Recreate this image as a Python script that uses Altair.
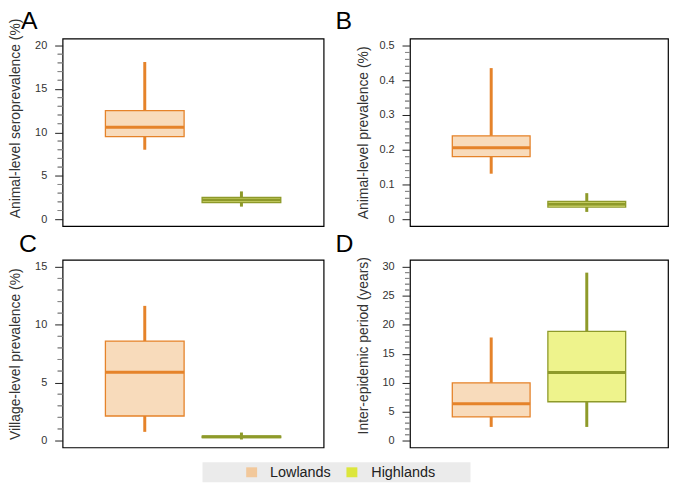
import altair as alt
import pandas as pd

FONT = "Liberation Sans"

groups = ["Lowlands", "Highlands"]
letters = ["A", "B", "C", "D"]
y_titles = [
    "Animal-level seroprevalence (%)",
    "Animal-level prevalence (%)",
    "Village-level prevalence (%)",
    "Inter-epidemic period (years)",
]

# box-plot summaries per panel: [Lowlands, Highlands]
whisker_lo = [[8.0, 1.45], [0.131, 0.021], [0.75, 0.09], [2.35, 2.35]]
q1 = [[9.5, 1.9], [0.18, 0.035], [2.12, 0.25], [4.07, 6.7]]
median = [[10.6, 2.2], [0.206, 0.043], [5.9, 0.32], [6.36, 11.75]]
q3 = [[12.5, 2.5], [0.24, 0.051], [8.59, 0.38], [9.96, 18.85]]
whisker_hi = [[18.1, 3.2], [0.435, 0.075], [11.63, 0.69], [17.8, 29.0]]

y_domains = [[-0.8, 20.8], [-0.02, 0.52], [-0.6, 15.6], [-1.2, 31.2]]
y_max_tick = [20, 0.5, 15, 30]
major_step = [5, 0.1, 5, 5]
minor_step = [1, 0.02, 1, 1]

stroke_colors = ["#E5832A", "#8E9A2A"]
fill_colors = ["#F8DBBB", "#EEF38C"]
legend_colors = ["#F2C89B", "#DCE63C"]

widths = [263, 260, 263, 260]
title_y = [80, 94.5, 94.5, 86]
letter_pos = [(-42, -10), (-75, -10), (-44, -8), (-75, -8)]


def make_panel(i):
    df = pd.DataFrame({
        "group": groups,
        "lo": whisker_lo[i], "q1": q1[i], "med": median[i],
        "q3": q3[i], "hi": whisker_hi[i],
    })
    n_major = int(round(y_max_tick[i] / major_step[i]))
    majors = [round(k * major_step[i], 4) for k in range(n_major + 1)]
    n_minor = int(round(y_max_tick[i] / minor_step[i]))
    minors = [round(k * minor_step[i], 4) for k in range(n_minor + 1)]
    minors = [v for v in minors if all(abs(v - m) > 1e-9 for m in majors)]

    axis = alt.Axis(
        values=majors,
        tickCount=200,
        labelOverlap=False,
        title=y_titles[i],
        labelExpr="toString(round(datum.value*1000)/1000)",
        tickSize=8,
        tickColor="#222222",
        tickWidth=1,
        domain=False,
        grid=False,
        labelFont=FONT,
        labelFontSize=11,
        labelColor="#333333",
        labelPadding=8,
        titleFont=FONT,
        titleFontSize=14,
        titleFontWeight="normal",
        titleColor="#333333",
        titleX=-47,
        titleY=title_y[i],
        titleAngle=270,
        titleBaseline="middle",
        titleAlign="center",
    )
    xenc = alt.X("group:N", scale=alt.Scale(domain=groups, paddingInner=0.186, paddingOuter=0.443), axis=None)
    yscale = alt.Scale(domain=y_domains[i], nice=False, zero=False)
    stroke = alt.Stroke("group:N", scale=alt.Scale(domain=groups, range=stroke_colors), legend=None)
    fill = alt.Fill("group:N", scale=alt.Scale(domain=groups, range=fill_colors), legend=None)

    base = alt.Chart(df)
    whisk = base.mark_rule(strokeWidth=3).encode(
        x=xenc, y=alt.Y("lo:Q", scale=yscale, axis=axis), y2="hi:Q", stroke=stroke)
    box = base.mark_bar(strokeWidth=1.3, opacity=1).encode(
        x=xenc, y=alt.Y("q1:Q", scale=yscale, axis=axis), y2="q3:Q", fill=fill, stroke=stroke)
    med = base.mark_bar(strokeWidth=3, fill="transparent").encode(
        x=xenc, y=alt.Y("med:Q", scale=yscale, axis=axis), y2="med:Q", stroke=stroke)
    minor = alt.Chart(pd.DataFrame({"v": minors})).mark_rect(
        color="#888888"
    ).encode(y=alt.Y("v:Q", scale=yscale, axis=axis), y2=alt.Y2("v:Q"),
             x=alt.value(-5), x2=alt.value(0), stroke=alt.value("#888888"),
             strokeWidth=alt.value(1))
    lx, ly = letter_pos[i]
    letter = alt.Chart(pd.DataFrame({"letter": [letters[i]]})).mark_text(
        fontSize=25, font=FONT, align="left", baseline="alphabetic", color="black"
    ).encode(text="letter:N", x=alt.value(lx), y=alt.value(ly))
    layers = [whisk, box, med, letter, minor]

    if i == 2:
        one = pd.DataFrame({"k": [0]})
        bg = alt.Chart(one).mark_rect(color="#EBEBEB").encode(
            x=alt.value(141), x2=alt.value(411), y=alt.value(204), y2=alt.value(224))
        layers.append(bg)
        sw_x = [185, 286]
        tx_x = [209, 311]
        for g in range(2):
            sw = alt.Chart(one).mark_rect(color=legend_colors[g]).encode(
                x=alt.value(sw_x[g]), x2=alt.value(sw_x[g] + 11),
                y=alt.value(209), y2=alt.value(219))
            tx = alt.Chart(pd.DataFrame({"label": [groups[g]]})).mark_text(
                fontSize=14.5, font=FONT, align="left", baseline="alphabetic", color="#222222"
            ).encode(text="label:N", x=alt.value(tx_x[g]), y=alt.value(219))
            layers += [sw, tx]

    return alt.layer(*layers).properties(width=widths[i], height=189)


panels = [make_panel(i) for i in range(4)]

chart = alt.concat(
    *panels, columns=2, spacing={"row": 34, "column": 87}, bounds="flush"
).properties(
    padding={"left": 0, "top": -2, "right": 0, "bottom": 0},
    background="white",
).configure(
    font=FONT
).configure_view(
    stroke="black", strokeWidth=1.2
)

chart.save("out.html", embed_options={"renderer": "svg", "actions": False})
